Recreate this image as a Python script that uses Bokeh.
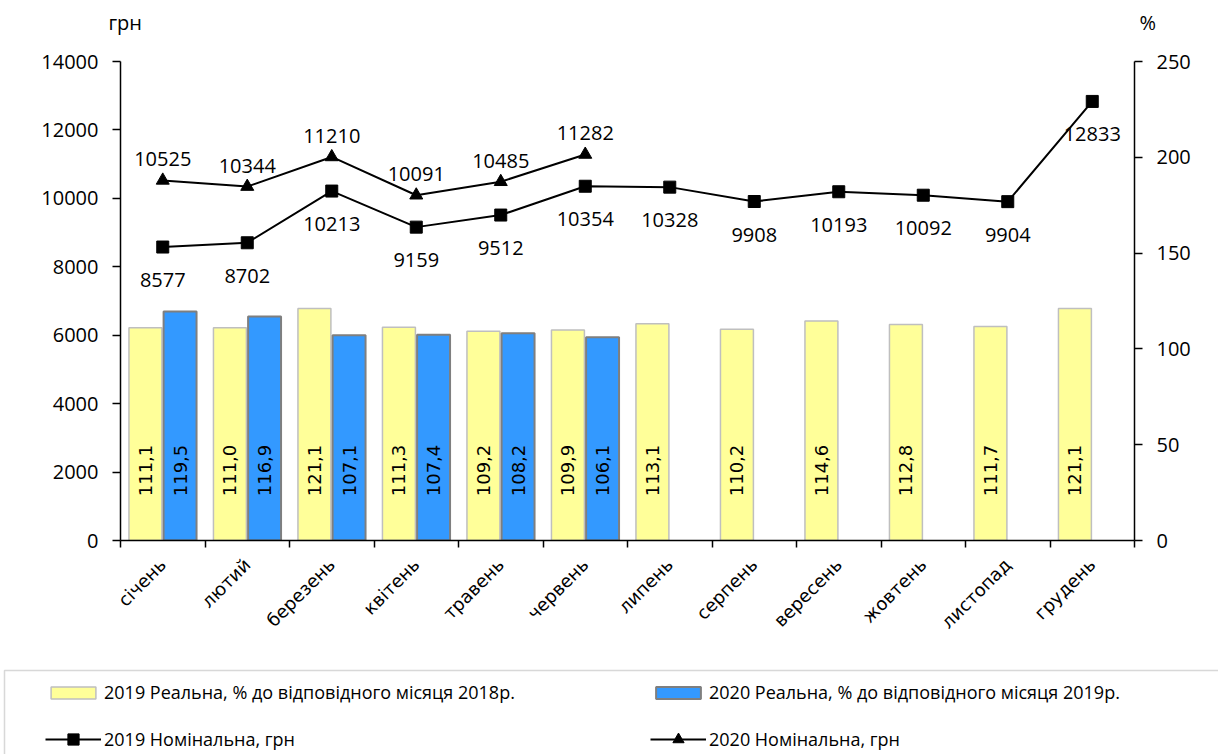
import math
from bokeh.plotting import figure
from bokeh.models import (ColumnDataSource, Range1d, LinearAxis, FixedTicker,
                          LabelSet, Label, Legend, LegendItem, BoxAnnotation)
from bokeh.core.properties import value
from bokeh.embed import file_html
from bokeh.resources import INLINE

months = ["січень", "лютий", "березень", "квітень", "травень", "червень",
          "липень", "серпень", "вересень", "жовтень", "листопад", "грудень"]
real_2019 = [111.1, 111.0, 121.1, 111.3, 109.2, 109.9, 113.1, 110.2, 114.6, 112.8, 111.7, 121.1]
real_2020 = [119.5, 116.9, 107.1, 107.4, 108.2, 106.1]
nom_2019 = [8577, 8702, 10213, 9159, 9512, 10354, 10328, 9908, 10193, 10092, 9904, 12833]
nom_2020 = [10525, 10344, 11210, 10091, 10485, 11282]

left_ticks = [0, 2000, 4000, 6000, 8000, 10000, 12000, 14000]
right_ticks = [0, 50, 100, 150, 200, 250]

unit_left = "грн"
unit_right = "%"
label_2019_real = "2019 Реальна, % до відповідного місяця 2018р."
label_2020_real = "2020 Реальна, % до відповідного місяця 2019р."
label_2019_nom = "2019 Номінальна, грн"
label_2020_nom = "2020 Номінальна, грн"


def fmt(v):
    return f"{v:.1f}".replace(".", ",")


centers = [i + 0.5 for i in range(len(months))]
n20 = len(real_2020)

src19 = ColumnDataSource(dict(x=[c - 0.205 for c in centers], top=real_2019,
                              base=[0] * len(real_2019),
                              txt=[fmt(v) for v in real_2019]))
src20 = ColumnDataSource(dict(x=[c + 0.205 for c in centers[:n20]], top=real_2020,
                              base=[0] * n20,
                              txt=[fmt(v) for v in real_2020]))
srcn19 = ColumnDataSource(dict(x=centers, y=nom_2019, txt=[str(v) for v in nom_2019]))
srcn20 = ColumnDataSource(dict(x=centers[:n20], y=nom_2020, txt=[str(v) for v in nom_2020]))

AX_FONT = "Open Sans"
YEL, YEL_LINE = "#FFFF99", "#BFBFBF"
BLU, BLU_LINE = "#3399FF", "#7F7F7F"

W = 1218
H_HEAD, H_MAIN, H_LEG = 40, 624, 90


def bare(height):
    f = figure(width=W, height=height, output_backend="svg", toolbar_location=None,
               x_range=Range1d(0, 12), y_range=Range1d(0, 14000),
               x_axis_type=None, y_axis_type=None,
               min_border_left=0, min_border_right=0, min_border_top=0, min_border_bottom=0)
    f.outline_line_color = None
    f.xgrid.visible = False
    f.ygrid.visible = False
    return f


# ---------- header with unit captions ----------
head = bare(H_HEAD)
head.add_layout(Label(x=108, y=22, x_units="canvas", y_units="canvas", text=unit_left,
                      text_align="left", text_baseline="middle", text_font=AX_FONT,
                      text_font_size="20px", text_color="black"))
head.add_layout(Label(x=1139, y=22, x_units="canvas", y_units="canvas", text=unit_right,
                      text_align="left", text_baseline="middle", text_font=AX_FONT,
                      text_font_size="20px", text_color="black"))

# ---------- main chart ----------
p = figure(width=W, height=H_MAIN, output_backend="svg", toolbar_location=None,
           x_range=Range1d(0, 12), y_range=Range1d(0, 14000),
           min_border_left=120, min_border_right=84, min_border_top=61 - H_HEAD,
           min_border_bottom=124, x_axis_type=None, y_axis_type=None)
p.outline_line_color = None
p.xgrid.visible = False
p.ygrid.visible = False
p.extra_y_ranges = {"pct": Range1d(0, 250)}

xaxis = LinearAxis(ticker=FixedTicker(ticks=centers, minor_ticks=list(range(13))),
                   major_label_overrides={c: m for c, m in zip(centers, months)})
xaxis.major_tick_line_color = None
xaxis.minor_tick_in = 0
xaxis.minor_tick_out = 7
xaxis.minor_tick_line_color = "black"
xaxis.minor_tick_line_width = 1.5
xaxis.axis_line_color = "black"
xaxis.axis_line_width = 1.5
xaxis.major_label_orientation = math.pi / 4
xaxis.major_label_text_font = "DejaVu Sans"
xaxis.major_label_text_font_size = "18px"
xaxis.major_label_text_color = "black"
xaxis.major_label_standoff = 14
p.add_layout(xaxis, "below")

yl = LinearAxis(ticker=FixedTicker(ticks=left_ticks))
yr = LinearAxis(ticker=FixedTicker(ticks=right_ticks), y_range_name="pct")
for ax in (yl, yr):
    ax.major_tick_in = 0
    ax.major_tick_out = 8
    ax.minor_tick_line_color = None
    ax.major_tick_line_color = "black"
    ax.major_tick_line_width = 1.5
    ax.axis_line_color = "black"
    ax.axis_line_width = 1.5
    ax.major_label_text_font = AX_FONT
    ax.major_label_text_font_size = "20px"
    ax.major_label_text_color = "black"
    ax.major_label_standoff = 14
p.add_layout(yl, "left")
p.add_layout(yr, "right")

p.vbar(x="x", top="top", width=0.39, source=src19, y_range_name="pct",
       fill_color=YEL, line_color=YEL_LINE, line_width=1.5)
p.vbar(x="x", top="top", width=0.39, source=src20, y_range_name="pct",
       fill_color=BLU, line_color=BLU_LINE, line_width=2)

for s in (src19, src20):
    p.add_layout(LabelSet(x="x", y="base", text="txt", source=s, y_range_name="pct",
                          angle=math.pi / 2, y_offset=70, text_align="center",
                          text_baseline="middle", text_font=value("DejaVu Sans"),
                          text_font_size="18px", text_color="black"))

p.line(x="x", y="y", source=srcn19, line_color="black", line_width=2)
p.scatter(x="x", y="y", source=srcn19, marker="square", size=12,
          fill_color="black", line_color="black")
p.line(x="x", y="y", source=srcn20, line_color="black", line_width=2)
p.scatter(x="x", y="y", source=srcn20, marker="triangle", size=13,
          fill_color="black", line_color="black")

p.add_layout(LabelSet(x="x", y="y", text="txt", source=srcn19, y_offset=-33,
                      text_align="center", text_baseline="middle",
                      text_font=value(AX_FONT), text_font_size="20px", text_color="black"))
p.add_layout(LabelSet(x="x", y="y", text="txt", source=srcn20, y_offset=21,
                      text_align="center", text_baseline="middle",
                      text_font=value(AX_FONT), text_font_size="20px", text_color="black"))

# ---------- legend ----------
lg = bare(H_LEG)
lg.add_layout(BoxAnnotation(left=4, right=1400, top=6, bottom=400,
                            left_units="canvas", right_units="canvas",
                            top_units="canvas", bottom_units="canvas",
                            fill_alpha=0, line_color="#7F7F7F", line_width=1.5))
# hidden renderers sharing the chart data; only their legend glyphs are shown
g_b19 = lg.vbar(x="x", top="top", width=0.39, source=src19, visible=False,
                fill_color=YEL, line_color=YEL_LINE, line_width=1.5)
g_b20 = lg.vbar(x="x", top="top", width=0.39, source=src20, visible=False,
                fill_color=BLU, line_color=BLU_LINE, line_width=2)
g_l19 = lg.line(x="x", y="y", source=srcn19, visible=False, line_color="black", line_width=2)
g_m19 = lg.scatter(x="x", y="y", source=srcn19, marker="square", size=11, visible=False,
                   fill_color="black", line_color="black")
g_l20 = lg.line(x="x", y="y", source=srcn20, visible=False, line_color="black", line_width=2)
g_m20 = lg.scatter(x="x", y="y", source=srcn20, marker="triangle", size=11, visible=False,
                   fill_color="black", line_color="black")

common = dict(orientation="horizontal", padding=0, margin=0, spacing=28,
              glyph_width=56, label_height=20, label_width=518, label_standoff=3,
              border_line_color=None, background_fill_alpha=0,
              inactive_fill_alpha=0,
              label_text_font=AX_FONT, label_text_font_size="18px",
              label_text_color="black")
legend_bars = Legend(items=[
    LegendItem(label=label_2019_real, renderers=[g_b19]),
    LegendItem(label=label_2020_real, renderers=[g_b20]),
], location=(45, 50), glyph_height=15, **common)
legend_lines = Legend(items=[
    LegendItem(label=label_2019_nom, renderers=[g_l19, g_m19]),
    LegendItem(label=label_2020_nom, renderers=[g_l20, g_m20]),
], location=(45, 1), glyph_height=28, **common)
lg.add_layout(legend_bars)
lg.add_layout(legend_lines)

open("out.html", "w").write(file_html([head, p, lg], INLINE))
